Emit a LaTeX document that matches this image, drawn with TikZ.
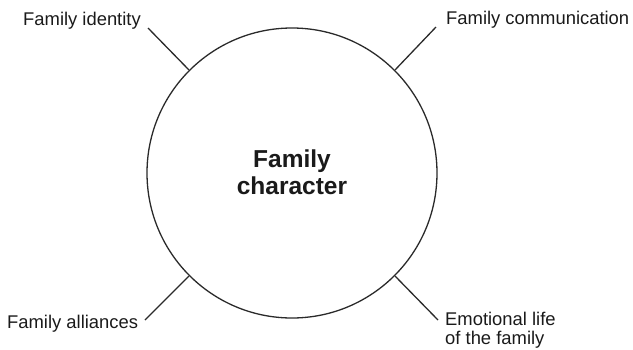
\documentclass[tikz,border=0pt]{standalone}
\usepackage{fontspec}
\setmainfont{Liberation Sans}
\definecolor{ink}{HTML}{1A1A1A}
\definecolor{linec}{HTML}{2A2A2A}
\begin{document}
\begin{tikzpicture}[x=1pt,y=-1pt,
  lbl/.style={inner sep=0pt, text=ink, font=\fontsize{18.4}{21.5}\selectfont},
  conn/.style={draw=linec, line width=1.3pt},
  hub/.style={circle, draw=linec, line width=1.3pt, minimum size=290pt, inner sep=0pt},
  hubtext/.style={inner sep=0pt, text=ink, font=\bfseries\fontsize{24.5}{27}\selectfont}]
\useasboundingbox (0,0) rectangle (633,349);
\node[hub] (c) at (292,173) {};
\node[hubtext, anchor=base] (h1) at (292,167) {Family};
\node[hubtext, anchor=base] (h2) at (292,194) {character};
\node[lbl, anchor=base west] (t1) at (23,25) {Family identity};
\node[lbl, anchor=base west] (t2) at (446,24) {Family communication};
\node[lbl, anchor=base west] (t3) at (7,328) {Family alliances};
\node[lbl, anchor=base west] (t4a) at (445,325) {Emotional life};
\node[lbl, anchor=base west] (t4b) at (445,344.5) {of the family};
\coordinate (e1) at (148,28);
\coordinate (e2) at (436,27);
\coordinate (e3) at (145,320);
\coordinate (e4) at (438,320);
\draw[conn] (c.135) -- (e1);
\draw[conn] (c.45) -- (e2);
\draw[conn] (c.225) -- (e3);
\draw[conn] (c.315) -- (e4);
\end{tikzpicture}
\end{document}
